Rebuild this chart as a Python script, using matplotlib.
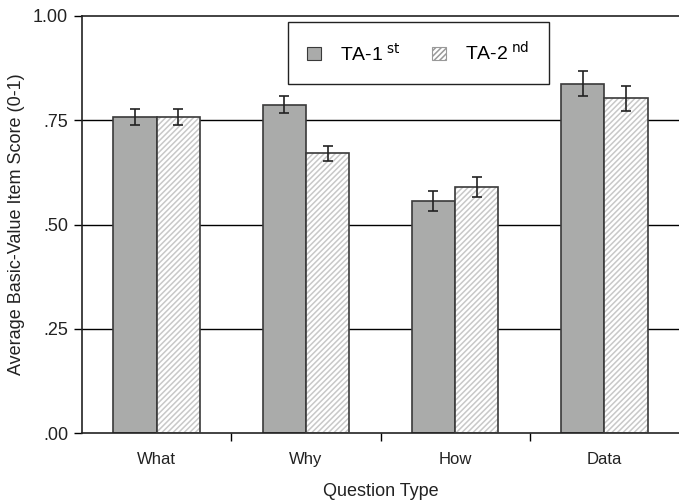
import numpy as np
import matplotlib.pyplot as plt
from matplotlib.patches import Patch

plt.rcParams['font.family'] = ['Liberation Sans', 'DejaVu Sans']
plt.rcParams['hatch.linewidth'] = 1.1

categories = ['What', 'Why', 'How', 'Data']
ta1_mean = [0.758, 0.787, 0.556, 0.837]
ta1_err = [0.019, 0.020, 0.024, 0.030]
ta2_mean = [0.758, 0.671, 0.590, 0.803]
ta2_err = [0.019, 0.018, 0.023, 0.030]
ytick_vals = [0.0, 0.25, 0.5, 0.75, 1.0]
ytick_labels = ['.00', '.25', '.50', '.75', '1.00']

GRAY = '#aaabaa'
EDGE = '#3a3a3a'
HATCH = '#c8c8c8'

fig = plt.figure(figsize=(6.79, 5.03), dpi=100)
ax = fig.add_axes([82 / 679, 1 - 433 / 503, 1 - 82 / 679, 417 / 503])

x = np.arange(len(categories))
w = 0.29

# gridlines behind bars
for yv in ytick_vals[1:-1]:
    ax.axhline(yv, color='black', linewidth=1.0, zorder=0)

ax.bar(x - w / 2, ta1_mean, w, color=GRAY, edgecolor=EDGE, linewidth=1.2, zorder=2)
ax.bar(x + w / 2, ta2_mean, w, color='white', edgecolor=HATCH, hatch='//////',
       linewidth=0, zorder=2)
ax.bar(x + w / 2, ta2_mean, w, fill=False, edgecolor=EDGE, linewidth=1.2, zorder=3)

ax.errorbar(x - w / 2, ta1_mean, yerr=ta1_err, fmt='none', ecolor='#222222',
            elinewidth=1.2, capsize=3.5, capthick=1.2, zorder=4)
ax.errorbar(x + w / 2, ta2_mean, yerr=ta2_err, fmt='none', ecolor='#222222',
            elinewidth=1.2, capsize=3.5, capthick=1.2, zorder=4)

ax.set_xlim(-0.5, 3.5)
ax.set_ylim(0, 1.0)
ax.set_yticks(ytick_vals)
ax.set_yticklabels(ytick_labels, fontsize=13, color='#222222')
ax.set_xticks(x)
ax.set_xticklabels(categories, fontsize=12, color='#222222')
ax.set_xticks([0.5, 1.5, 2.5], minor=True)
ax.tick_params(axis='x', which='major', length=0, pad=14)
ax.tick_params(axis='x', which='minor', length=6, width=1.0, direction='out')
ax.tick_params(axis='y', length=6, width=1.0, direction='out', pad=4)

for s in ['top', 'left', 'bottom']:
    ax.spines[s].set_linewidth(1.2)
    ax.spines[s].set_color('#222222')
ax.spines['right'].set_visible(False)

ax.set_xlabel('Question Type', fontsize=13, labelpad=11, color='#222222')
ax.set_ylabel('Average Basic-Value Item Score (0-1)', fontsize=13, labelpad=6,
              color='#222222')

handles = [Patch(facecolor=GRAY, edgecolor=EDGE, linewidth=0.8),
           Patch(facecolor='white', edgecolor='#999999', hatch='//////', linewidth=0.8)]
leg = ax.legend(handles, [r'TA-1$^{\;\mathrm{st}}$', r'TA-2$^{\;\mathrm{nd}}$'],
                ncol=2, loc='upper left', mode='expand',
                bbox_to_anchor=(0.345, 0.986, 0.437, 0.0), borderaxespad=0,
                fontsize=14, fancybox=False, framealpha=1, edgecolor='#222222',
                handlelength=0.7, handleheight=0.7, borderpad=1.0,
                columnspacing=2.0, handletextpad=1.0)
leg.get_frame().set_linewidth(1.0)
leg.set_zorder(5)

fig.savefig('out.png', dpi=100)
